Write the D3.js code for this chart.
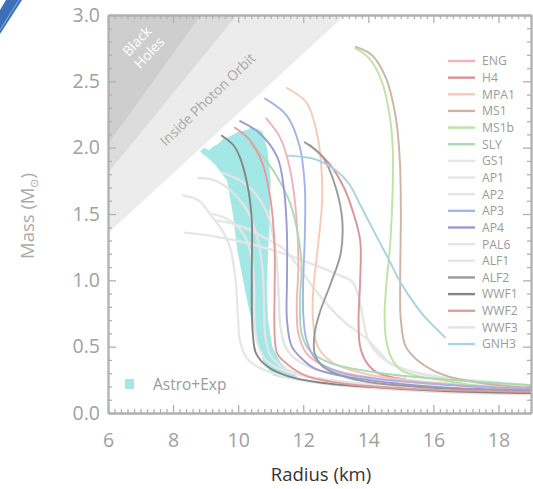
<!DOCTYPE html>
<html><head><meta charset="utf-8">
<script src="https://cdn.jsdelivr.net/npm/d3@7"></script>
<style>body{margin:0;background:#fff}svg{display:block}text{font-family:"Open Sans",sans-serif}</style>
</head><body><svg id="c" width="533" height="489"></svg>
<script>
// ---- data (Radius km, Mass Msun) ----
const eosNames  = ["ENG","H4","MPA1","MS1","MS1b","SLY","GS1","AP1","AP2","AP3","AP4","PAL6","ALF1","ALF2","WWF1","WWF2","WWF3","GNH3"];
const eosColors = ["#f2b3b8","#dd9399","#f7c9b6","#cdb4a4","#bfe3a5","#a9d9b6","#e6e6e6","#e6e6e6","#e4e4e4","#a6b3ea","#9c9ad3","#e6e6e6","#e6e6e6","#9a9a9a","#858585","#e69a9a","#e4e4e4","#a9d2e3"];
const ENG  = [[10.86,2.22],[11.3,2.07],[11.6,1.83],[11.8,1.45],[11.85,1.1],[11.8,0.8],[11.85,0.6],[12.1,0.45],[12.6,0.36],[13.5,0.29],[15.5,0.23],[19,0.18]];
const H4   = [[12.2,2.02],[12.8,1.88],[13.25,1.7],[13.55,1.5],[13.75,1.3],[13.75,1.0],[13.7,0.7],[13.75,0.5],[13.95,0.38],[14.3,0.3],[15.2,0.25],[16.7,0.21],[19,0.18]];
const MPA1 = [[11.5,2.45],[12.1,2.34],[12.4,2.13],[12.55,1.88],[12.58,1.6],[12.45,1.25],[12.3,0.9],[12.3,0.7],[12.45,0.5],[12.9,0.38],[14,0.29],[16,0.23],[19,0.19]];
const MS1  = [[13.62,2.76],[14.1,2.7],[14.55,2.52],[14.85,2.22],[14.97,1.9],[15.0,1.5],[14.98,1.0],[15.0,0.7],[15.15,0.5],[15.5,0.4],[16.0,0.32],[16.7,0.26],[18,0.21],[19,0.19]];
const MS1b = [[13.6,2.75],[14.0,2.68],[14.4,2.51],[14.65,2.25],[14.75,2.0],[14.75,1.7],[14.68,1.3],[14.55,0.95],[14.5,0.75],[14.55,0.55],[14.7,0.42],[14.97,0.33],[15.5,0.28],[16.2,0.25],[17.5,0.2],[19,0.17]];
const SLY  = [[10.36,2.03],[10.8,1.92],[11.1,1.82],[11.6,1.58],[11.85,1.33],[11.95,1.1],[11.9,0.85],[11.95,0.6],[12.2,0.47],[12.8,0.38],[14.4,0.3],[16,0.26],[19,0.21]];
const GS1  = [[8.37,1.36],[9.3,1.33],[10.3,1.28],[11.3,1.21],[12.3,1.12],[13.0,1.05],[13.5,0.99],[13.7,0.88],[13.85,0.7],[14.0,0.55],[14.4,0.42],[15.0,0.34],[16,0.28],[17.5,0.24],[19,0.21]];
const AP1  = [[8.3,1.64],[8.8,1.6],[9.13,1.5],[9.5,1.38],[9.75,1.25],[9.9,1.05],[9.96,0.87],[10.0,0.7],[10.05,0.55],[10.25,0.42],[10.58,0.35],[11.5,0.27],[13,0.21],[16,0.16],[19,0.14]];
const AP2  = [[8.77,1.77],[9.2,1.76],[9.6,1.71],[10.0,1.62],[10.27,1.53],[10.58,1.33],[10.72,1.15],[10.78,0.95],[10.8,0.75],[10.85,0.55],[11.0,0.43],[11.4,0.34],[12.2,0.27],[14,0.21],[17,0.17],[19,0.15]];
const AP3  = [[10.83,2.37],[11.5,2.24],[11.9,2.0],[12.05,1.7],[12.05,1.35],[12.0,1.0],[12.0,0.75],[12.1,0.55],[12.4,0.4],[13.2,0.3],[15,0.24],[19,0.18]];
const AP4  = [[10.06,2.2],[10.65,2.11],[11.2,1.93],[11.4,1.7],[11.5,1.35],[11.5,1.0],[11.5,0.7],[11.65,0.5],[12.0,0.4],[12.4,0.33],[13.4,0.27],[15.9,0.2],[19,0.17]];
const PAL6 = [[9.2,1.5],[9.6,1.47],[10.0,1.4],[10.3,1.28],[10.45,1.1],[10.5,0.9],[10.5,0.7],[10.6,0.52],[10.85,0.4],[11.4,0.32],[12.5,0.26],[15,0.2],[19,0.17]];
const ALF1 = [[9.3,1.45],[9.8,1.43],[10.36,1.38],[10.9,1.31],[11.38,1.24],[11.8,1.12],[12.3,0.95],[12.8,0.8],[13.3,0.68],[13.9,0.57],[14.3,0.47],[14.7,0.37],[15.5,0.3],[17,0.24],[19,0.2]];
const ALF2 = [[12.05,2.04],[12.6,1.93],[13.0,1.7],[13.2,1.45],[13.15,1.2],[12.85,0.98],[12.5,0.75],[12.35,0.6],[12.35,0.45],[12.6,0.35],[13.2,0.28],[14.1,0.23],[16.7,0.18],[19,0.16]];
const WWF1 = [[9.5,2.09],[9.85,2.02],[10.05,1.93],[10.3,1.7],[10.42,1.45],[10.42,1.1],[10.42,0.8],[10.45,0.6],[10.55,0.45],[10.9,0.35],[11.5,0.28],[12.5,0.23],[14.5,0.19],[17,0.16],[19,0.15]];
const WWF2 = [[9.9,2.15],[10.35,2.06],[10.75,1.88],[11.0,1.6],[11.12,1.25],[11.12,0.9],[11.12,0.6],[11.2,0.45],[11.5,0.37],[12.1,0.28],[13.3,0.22],[15.5,0.18],[19,0.16]];
const WWF3 = [[9.53,1.81],[10.15,1.74],[10.6,1.63],[10.9,1.5],[11.1,1.3],[11.2,1.1],[11.25,0.85],[11.3,0.65],[11.45,0.5],[11.8,0.4],[12.5,0.32],[14,0.26],[16.5,0.21],[19,0.18]];
const GNH3 = [[11.5,1.94],[12.0,1.93],[12.4,1.91],[13.0,1.83],[13.4,1.73],[13.75,1.57],[14.15,1.38],[14.6,1.17],[15.0,0.98],[15.4,0.83],[15.75,0.72],[16.36,0.57]];
const astroExp = [[8.83,1.97],[8.95,2.0],[9.1,1.98],[9.25,2.01],[9.4,2.03],[9.55,2.07],[9.7,2.08],[9.85,2.1],[10.0,2.12],[10.2,2.13],[10.4,2.15],[10.6,2.14],[10.75,2.12],[10.9,1.98],[11.0,1.75],[10.97,1.5],[10.92,1.2],[10.88,0.95],[10.92,0.7],[11.05,0.5],[11.3,0.38],[11.65,0.3],[11.85,0.27],[11.5,0.26],[11.1,0.28],[10.78,0.38],[10.57,0.55],[10.36,0.75],[10.15,1.0],[9.96,1.25],[9.84,1.5],[9.66,1.75],[9.3,1.87],[9.04,1.93]];
// region boundaries (R at M, endpoints)
const blackHoleEdge = [[6,2.03],[8.85,3.0]];
const buchdahlEdge  = [[6,1.81],[9.96,3.0]];
const photonEdge    = [[6,1.354],[13.29,3.0]];
const xTicks = [6,8,10,12,14,16,18];
const yTicks = [0,0.5,1.0,1.5,2.0,2.5,3.0];

const eosData = {ENG,H4,MPA1,MS1,MS1b,SLY,GS1,AP1,AP2,AP3,AP4,PAL6,ALF1,ALF2,WWF1,WWF2,WWF3,GNH3};

const svg = d3.select("#c");
const L=108, R=531, T=15, B=413;
const x = d3.scaleLinear().domain([6,19]).range([L,R]);
const y = d3.scaleLinear().domain([0,3]).range([B,T]);

// blue decoration corner
svg.append("path").attr("d","M0,34 L22,0 L6,0 L0,10 Z").attr("fill","#3d6fb8");
svg.append("path").attr("d","M0,30 L19,0").attr("stroke","#7fa4d8").attr("stroke-width",1.2).attr("fill","none");

svg.append("clipPath").attr("id","pc").append("rect").attr("x",L).attr("y",T).attr("width",R-L).attr("height",B-T);
const g = svg.append("g").attr("clip-path","url(#pc)");

function region(edge, fill){
  const [a,b]=edge;
  g.append("path").attr("d",`M${x(a[0])},${y(a[1])} L${x(b[0])},${y(b[1])} L${x(6)},${y(3)} Z`).attr("fill",fill);
}
region(photonEdge,"#ececec");
region(buchdahlEdge,"#dcdcdc");
region(blackHoleEdge,"#cecece");

// texts in regions
const bh = svg.append("text").attr("transform","translate(144,48) rotate(-47)").attr("fill","#fff").attr("font-size",14).attr("text-anchor","middle");
bh.append("tspan").attr("x",0).attr("dy","-0.35em").text("Black");
bh.append("tspan").attr("x",0).attr("dy","1.2em").text("Holes");
svg.append("text").attr("transform","translate(211,103) rotate(-44)").attr("fill","#a8a8a8").attr("font-size",13.8).attr("text-anchor","middle").text("Inside Photon Orbit");

// astro band
g.append("path").datum(astroExp).attr("d",d3.line().x(d=>x(d[0])).y(d=>y(d[1])).curve(d3.curveLinearClosed)).attr("fill","#a3e8e6");

const line = d3.line().x(d=>x(d[0])).y(d=>y(d[1])).curve(d3.curveCatmullRom.alpha(0.5));
const light = ["GS1","AP1","AP2","PAL6","ALF1","WWF3"];
const drawOrder = light.concat(eosNames.filter(n=>!light.includes(n)));
drawOrder.forEach(n=>{
  const i = eosNames.indexOf(n);
  g.append("path").datum(eosData[n]).attr("d",line).attr("fill","none").attr("stroke",eosColors[i]).attr("stroke-width",light.includes(n)?2.3:1.9).attr("stroke-linecap","round");
});

// axes
const axCol="#b0b0b0";
function styleAxis(sel){ sel.selectAll("path,line").attr("stroke",axCol); sel.select(".domain").attr("stroke-width",1.8); sel.selectAll("line").attr("stroke-width",1.3); sel.selectAll("text").attr("fill","#a0a0a0").attr("font-size",19.5).attr("font-family","'Open Sans',sans-serif"); }
const xMinor = d3.range(6,19.001,0.2).filter(v=>Math.abs(v/2-Math.round(v/2))>1e-6);
const yMinor = d3.range(0,3.001,0.1).filter(v=>Math.abs(v*2-Math.round(v*2))>1e-6);
const fmtY = d3.format(".1f");
[[d3.axisBottom(x),B],[d3.axisTop(x),T]].forEach(([ax,pos])=>{
  styleAxis(svg.append("g").attr("transform",`translate(0,${pos})`).call(ax.tickValues(xMinor).tickSize(-4).tickSizeOuter(0).tickFormat("")));
});
[[d3.axisLeft(y),L],[d3.axisRight(y),R]].forEach(([ax,pos])=>{
  styleAxis(svg.append("g").attr("transform",`translate(${pos},0)`).call(ax.tickValues(yMinor).tickSize(-4).tickSizeOuter(0).tickFormat("")));
});
styleAxis(svg.append("g").attr("transform",`translate(0,${B})`).call(d3.axisBottom(x).tickValues(xTicks).tickSize(-8).tickSizeOuter(0).tickPadding(20).tickFormat(d3.format("d"))));
styleAxis(svg.append("g").attr("transform",`translate(0,${T})`).call(d3.axisTop(x).tickValues(xTicks).tickSize(-8).tickSizeOuter(0).tickFormat("")));
styleAxis(svg.append("g").attr("transform",`translate(${L},0)`).call(d3.axisLeft(y).tickValues(yTicks).tickSize(-8).tickSizeOuter(0).tickPadding(8).tickFormat(fmtY)));
styleAxis(svg.append("g").attr("transform",`translate(${R},0)`).call(d3.axisRight(y).tickValues(yTicks).tickSize(-8).tickSizeOuter(0).tickFormat("")));

// axis titles
svg.append("text").attr("x",321).attr("y",481).attr("text-anchor","middle").attr("fill","#333").attr("font-size",18.5).text("Radius (km)");
const mt = svg.append("text").attr("transform","translate(34,216) rotate(-90)").attr("text-anchor","middle").attr("fill","#aaa").attr("font-size",18.5);
mt.append("tspan").text("Mass (M");
mt.append("tspan").attr("font-size",11).attr("dy",4).text("⊙");
mt.append("tspan").attr("dy",-4).text(")");

// legend
const lg = svg.append("g");
eosNames.forEach((n,i)=>{
  const yy = 61 + i*16.65;
  lg.append("line").attr("x1",448).attr("x2",475).attr("y1",yy).attr("y2",yy).attr("stroke",eosColors[i]).attr("stroke-width",2.4);
  lg.append("text").attr("x",482).attr("y",yy).attr("dy","0.36em").attr("fill","#9a9a9a").attr("font-size",12.2).text(n);
});
svg.append("rect").attr("x",125).attr("y",379).attr("width",9).attr("height",10).attr("fill","#a3e8e6");
svg.append("text").attr("x",153).attr("y",384).attr("dy","0.36em").attr("fill","#9a9a9a").attr("font-size",15.5).text("Astro+Exp");
</script></body></html>
